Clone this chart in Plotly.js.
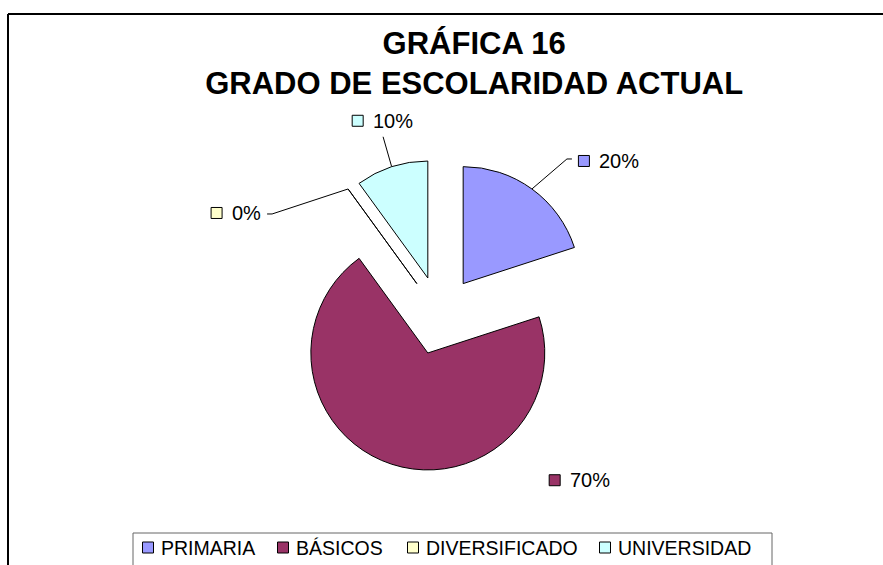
<!DOCTYPE html>
<html><head><meta charset="utf-8">
<script src="https://cdn.plot.ly/plotly-3.0.1.min.js"></script>
<style>html,body{margin:0;padding:0;background:#fff}#chart{width:883px;height:565px}</style>
</head><body><div id="chart"></div>
<script>
// ---- data ----
const categories = ['PRIMARIA', 'BÁSICOS', 'DIVERSIFICADO', 'UNIVERSIDAD'];
const percentValues = [20, 70, 0, 10];
const titleLines = ['GRÁFICA 16', 'GRADO DE ESCOLARIDAD ACTUAL'];

// ---- style ----
const sliceColors = ['#9999FF', '#993366', '#FFFFCC', '#CCFFFF'];
const FONT = 'Liberation Sans, Arial, Helvetica, sans-serif';
const W = 883, H = 565;
const PULL = 0.337;
const domX = [0.3212, 0.6754], domY = [0.1648, 0.7184];
// data-label layout: pixel offsets relative to each slice's arc point
const leaderOffsets = [[[35, -30], [40, -30]], [], [[-76, 25], [-81, 25]], [[-8.6, -30]]];
const squareOffsets = [[52, -28], [163, 16], [-131.5, 24], [-34, -46]];
const TEXT_GAP = 13;
// legend layout (pixels)
const legendSquareX = [148, 283, 413, 605];
const legendTextX = [159, 294, 424, 616];
const LEGEND_Y = 547.5;
const LEGEND_BOX = { x0: 133, x1: 772, y0: 533, y1: 575 };

// ---- geometry derived from the pie domain (same rules Plotly uses) ----
const cx = W * (domX[0] + domX[1]) / 2;
const cy = H * (1 - (domY[0] + domY[1]) / 2);
const R = Math.min(W * (domX[1] - domX[0]), H * (domY[1] - domY[0])) / 2 / (1 + PULL);
const total = percentValues.reduce((a, b) => a + b, 0);
let cum = 0;
const mids = percentValues.map(v => { const m = (cum + v / 2) / total * 2 * Math.PI; cum += v; return m; });
const arcPts = mids.map(m => {
  const ox = cx + PULL * R * Math.sin(m), oy = cy - PULL * R * Math.cos(m);
  return [ox + R * Math.sin(m), oy - R * Math.cos(m)];
});

const leadX = [], leadY = [];
arcPts.forEach((p, i) => {
  if (!leaderOffsets[i].length) return;
  leadX.push(p[0]); leadY.push(p[1]);
  leaderOffsets[i].forEach(o => { leadX.push(p[0] + o[0]); leadY.push(p[1] + o[1]); });
  leadX.push(null); leadY.push(null);
});
const sqX = arcPts.map((p, i) => p[0] + squareOffsets[i][0]);
const sqY = arcPts.map((p, i) => p[1] + squareOffsets[i][1]);

const pieTrace = {
  type: 'pie',
  labels: categories,
  values: percentValues.map(v => v > 0 ? v : total * 1e-7),
  sort: false,
  direction: 'clockwise',
  rotation: 0,
  pull: PULL,
  domain: { x: domX, y: domY },
  marker: { colors: sliceColors, line: { color: '#000', width: 1 } },
  textinfo: 'none',
  hoverinfo: 'skip',
  showlegend: false
};
const leaderTrace = {
  type: 'scatter', mode: 'lines', x: leadX, y: leadY,
  line: { color: '#000', width: 1 }, showlegend: false, hoverinfo: 'skip'
};
const squareTrace = {
  type: 'scatter', mode: 'markers', x: sqX, y: sqY,
  marker: { symbol: 'square', size: 11, color: sliceColors, line: { color: '#000', width: 1 } },
  showlegend: false, hoverinfo: 'skip'
};
const legendSquareTrace = {
  type: 'scatter', mode: 'markers', x: legendSquareX, y: categories.map(() => LEGEND_Y),
  marker: { symbol: 'square', size: 11, color: sliceColors, line: { color: '#000', width: 1 } },
  showlegend: false, hoverinfo: 'skip'
};

const labelAnnotations = percentValues.map((v, i) => ({
  xref: 'x', yref: 'y', x: sqX[i] + TEXT_GAP, y: sqY[i],
  xanchor: 'left', yanchor: 'middle', showarrow: false,
  text: Math.round(v / total * 100) + '%',
  font: { family: FONT, size: 20, color: '#000' }
}));
const legendAnnotations = categories.map((c, i) => ({
  xref: 'x', yref: 'y', x: legendTextX[i], y: LEGEND_Y,
  xanchor: 'left', yanchor: 'middle', showarrow: false, text: c,
  font: { family: FONT, size: 19.5, color: '#000' }
}));

const layout = {
  width: W, height: H,
  margin: { l: 0, r: 0, t: 0, b: 0, autoexpand: false },
  paper_bgcolor: '#fff', plot_bgcolor: 'rgba(0,0,0,0)',
  font: { family: FONT, color: '#000' },
  title: {
    text: titleLines.join('<br>'),
    font: { family: FONT, size: 31, color: '#000', weight: 'bold' },
    x: 0.537, xanchor: 'center', xref: 'container',
    y: 1 - 54 / H, yanchor: 'top', yref: 'container'
  },
  xaxis: { range: [0, W], visible: false, fixedrange: true },
  yaxis: { range: [H, 0], visible: false, fixedrange: true },
  showlegend: false,
  shapes: [
    { type: 'line', xref: 'x', yref: 'y', x0: 8, y0: 14, x1: W, y1: 14, line: { color: '#000', width: 2 } },
    { type: 'line', xref: 'x', yref: 'y', x0: 8, y0: 14, x1: 8, y1: H, line: { color: '#000', width: 2 } },
    { type: 'rect', xref: 'x', yref: 'y', x0: LEGEND_BOX.x0, x1: LEGEND_BOX.x1, y0: LEGEND_BOX.y0, y1: LEGEND_BOX.y1,
      line: { color: '#666', width: 1 }, fillcolor: 'rgba(0,0,0,0)', layer: 'below' }
  ],
  annotations: labelAnnotations.concat(legendAnnotations)
};

Plotly.newPlot('chart', [pieTrace, leaderTrace, squareTrace, legendSquareTrace], layout, { displayModeBar: false, staticPlot: true });
</script>
</body></html>
